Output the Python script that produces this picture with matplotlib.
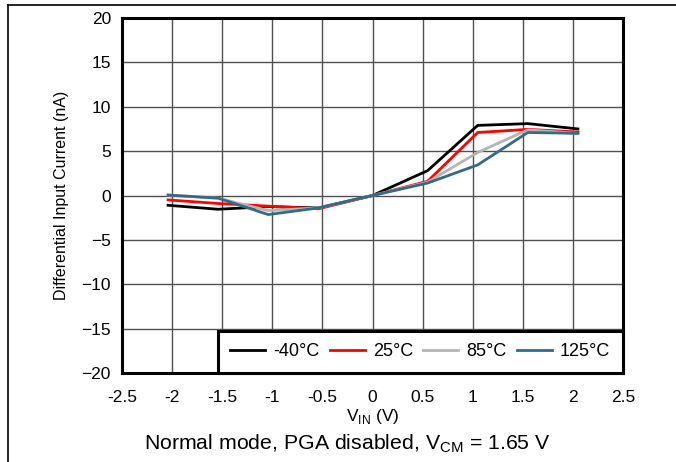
import matplotlib
matplotlib.use("Agg")
import matplotlib.pyplot as plt
from matplotlib.lines import Line2D

plt.rcParams["font.family"] = ["Liberation Sans", "DejaVu Sans"]

# input voltage (V), measured points
vin = [-2.04, -1.54, -1.04, -0.54, 0.0, 0.55, 1.05, 1.55, 2.05]

# differential input current (nA) per temperature
i_m40 = [-1.1, -1.55, -1.25, -1.4, 0.0, 2.8, 7.9, 8.1, 7.5]
i_25 = [-0.5, -0.9, -1.2, -1.5, 0.0, 1.6, 7.1, 7.45, 7.15]
i_85 = [0.05, -0.3, -1.7, -1.4, 0.0, 1.5, 4.85, 7.4, 7.0]
i_125 = [0.05, -0.3, -2.15, -1.4, 0.0, 1.4, 3.45, 7.1, 7.0]

labels = ["-40°C", "25°C", "85°C", "125°C"]
colors = ["#000000", "#ff0000", "#b4b4b4", "#336a86"]

xticks = [-2.5, -2, -1.5, -1, -0.5, 0, 0.5, 1, 1.5, 2, 2.5]
yticks = [-20, -15, -10, -5, 0, 5, 10, 15, 20]

fig = plt.figure(figsize=(6.76, 4.62), dpi=100)
ax = fig.add_axes([122 / 676, 1 - 373 / 462, 501 / 676, 355 / 462])

for ys, lab, c in zip([i_m40, i_25, i_85, i_125], labels, colors):
    ax.plot(vin, ys, color=c, lw=2.0, label=lab, zorder=3)

ax.set_xlim(-2.5, 2.5)
ax.set_ylim(-20, 20)
ax.set_xticks(xticks)
ax.set_xticklabels(["%g" % t for t in xticks])
ax.set_yticks(yticks)
ax.grid(True, color="#505050", lw=1.0)
ax.tick_params(length=0, labelsize=12.5)
ax.tick_params(axis="x", pad=12)
ax.tick_params(axis="y", pad=8)
for s in ax.spines.values():
    s.set_linewidth(2.2)

ax.set_xlabel("V$_{\\mathregular{IN}}$ (V)", fontsize=12.5, labelpad=2)
ax.set_ylabel("Differential Input Current (nA)", fontsize=11.5, labelpad=9)

leg = ax.legend(loc="lower right", ncol=4, fontsize=13, frameon=True,
                fancybox=False, borderaxespad=0, handlelength=1.95,
                columnspacing=0.55, handletextpad=0.45, borderpad=0.7)
leg.get_frame().set_edgecolor("black")
leg.get_frame().set_linewidth(2.2)
leg.get_frame().set_alpha(1)

fig.text(347 / 676, 1 - 444 / 462,
         "Normal mode, PGA disabled, V$_{\\mathregular{CM}}$ = 1.65 V",
         ha="center", va="center", fontsize=15.3)

# page frame lines (top and left)
fig.add_artist(Line2D([8 / 676, 1], [1 - 5 / 462, 1 - 5 / 462],
                      transform=fig.transFigure, color="black", lw=1.2))
fig.add_artist(Line2D([8 / 676, 8 / 676], [0, 1 - 5 / 462],
                      transform=fig.transFigure, color="black", lw=1.2))

fig.savefig("out.png", dpi=100)
